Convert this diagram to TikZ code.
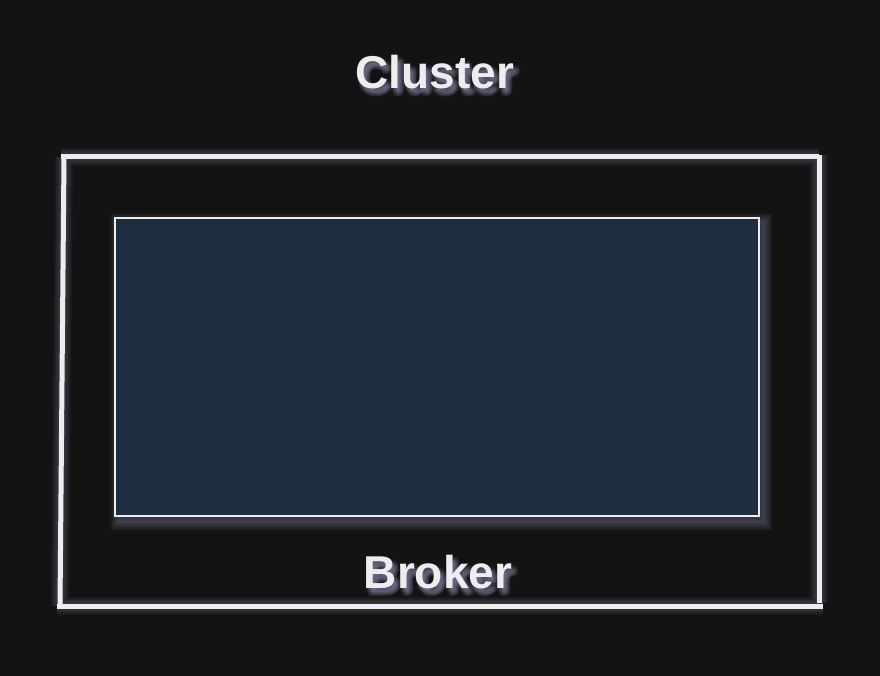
\documentclass[tikz,border=0pt]{standalone}
\usepackage{fontspec}
\setmainfont{Liberation Sans}
\usetikzlibrary{positioning}
\definecolor{bgdark}{HTML}{131313}
\definecolor{chalk}{HTML}{EDEDEF}
\definecolor{navy}{HTML}{1F2D42}
\definecolor{haze}{HTML}{9090B4}
\begin{document}
\begin{tikzpicture}[x=1pt, y=-1pt,
    frameline/.style={chalk, line width=5pt},
    heading/.style={text=chalk, font=\fontsize{46}{46}\selectfont\bfseries},
    boxstyle/.style={draw=chalk, line width=1.6pt, fill=navy, minimum width=644pt, minimum height=298pt, inner sep=0pt},
  ]
    % Canvas
    \fill[bgdark] (0,0) rectangle (880,676);
    \useasboundingbox (0,0) rectangle (880,676);
    % Frame corners (slightly skewed, hand drawn)
    \coordinate (tl) at (61,157);
    \coordinate (tr) at (819,157);
    \coordinate (rt) at (819,155);
    \coordinate (rb) at (819,603);
    \coordinate (lt) at (64,157);
    \coordinate (lb) at (60,606);
    \coordinate (bl) at (57,606);
    \coordinate (br) at (823,606);
    % Soft glow behind the frame and the box
    \foreach \w in {3,6,9,12,15,18} {
        \draw[haze, opacity=0.07, line width=\w pt, shift={(4,5)}] (tl) -- (tr) (rt) -- (rb) (lt) -- (lb) (bl) -- (br);
        \draw[haze, opacity=0.07, line width=\w pt, shift={(4,5)}] (115,218) rectangle (759,516);
    }
    % Broker box
    \node[boxstyle] (box) at (437,367) {};
    % Frame
    \draw[frameline] (tl) -- (tr);
    \draw[frameline] (rt) -- (rb);
    \draw[frameline] (lt) -- (lb);
    \draw[frameline] (bl) -- (br);
    % Text glow
    \foreach \dx/\dy [count=\i] in {1/2, 3/3, 5/4, 2/5, 4/6, 6/6, 3/7, 0/4, 6/2, 2/8, 5/8, 7/5} {
        \node[heading, text=haze, opacity=0.1] (cg\i) at (435+\dx,72+\dy) {Cluster};
        \node[heading, text=haze, opacity=0.1] (bg\i) at (438+\dx,572+\dy) {Broker};
    }
    % Labels
    \node[heading] (cluster) at (435,72) {Cluster};
    \node[heading] (broker) at (438,572) {Broker};
\end{tikzpicture}
\end{document}
